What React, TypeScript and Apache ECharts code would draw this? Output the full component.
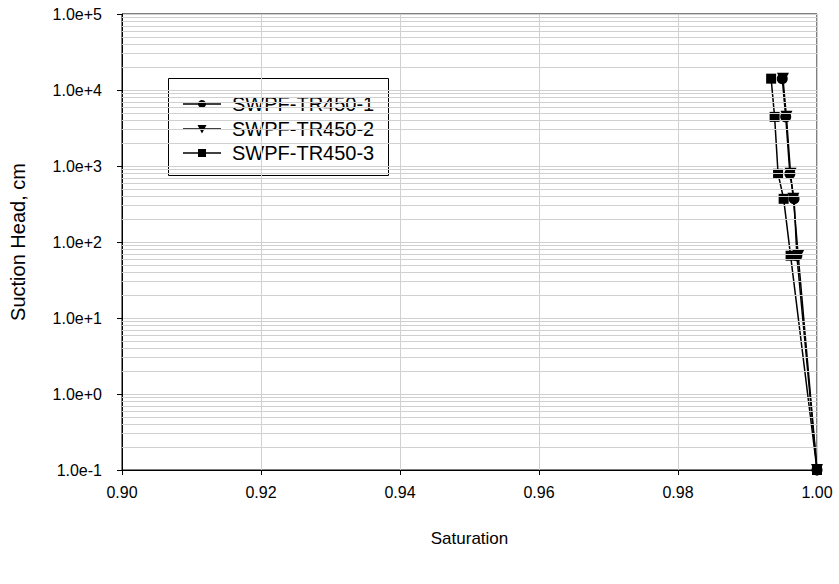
import { useEffect, useRef } from 'react';
import * as echarts from 'echarts';

// Saturation for each sample at the applied suction heads (cm)
const suctionHead = [14100, 4430, 790, 370, 66, 0.1];
const saturation1 = [0.995, 0.9955, 0.9961, 0.9967, 0.9971, 1.0];
const saturation2 = [0.9951, 0.9956, 0.9962, 0.9966, 0.9973, 1.0];
const saturation3 = [0.9934, 0.9939, 0.9944, 0.9952, 0.9962, 1.0];
const seriesNames = ['SWPF-TR450-1', 'SWPF-TR450-2', 'SWPF-TR450-3'];

// Decades of the log axis and the intermediate grid multipliers
const decades = [-1, 0, 1, 2, 3, 4];
const minorMultipliers = [2, 3, 4, 5, 6, 7, 8, 9];

const FONT = 'Liberation Sans';

function pairs(xs: number[], ys: number[]) {
  return xs.map((x, i) => [x, ys[i]]);
}

// Boxed key in the upper-left of the plot: line + marker + label per sample
function legendGraphic() {
  const left = 168;
  const top = 78;
  const rowY = [104, 129, 153];
  const lineX0 = 183;
  const lineX1 = 221;
  const mx = (lineX0 + lineX1) / 2;
  const children: any[] = [
    {
      type: 'rect',
      shape: { x: left + 0.5, y: top + 0.5, width: 220, height: 97 },
      style: { fill: '#fff', stroke: '#000', lineWidth: 1 },
    },
  ];
  rowY.forEach((y, i) => {
    children.push({
      type: 'line',
      shape: { x1: lineX0, y1: y, x2: lineX1, y2: y },
      style: { stroke: '#000', lineWidth: 1.5 },
    });
    if (i === 0) {
      children.push({ type: 'circle', shape: { cx: mx, cy: y, r: 4 }, style: { fill: '#000' } });
    } else if (i === 1) {
      children.push({
        type: 'polygon',
        shape: { points: [[mx - 4.5, y - 4], [mx + 4.5, y - 4], [mx, y + 4.5]] },
        style: { fill: '#000' },
      });
    } else {
      children.push({ type: 'rect', shape: { x: mx - 4, y: y - 4, width: 8, height: 8 }, style: { fill: '#000' } });
    }
    children.push({
      type: 'text',
      x: 232,
      y: y - 10,
      style: { text: seriesNames[i], fill: '#000', fontSize: 20, fontFamily: FONT, verticalAlign: 'top', align: 'left' },
    });
  });
  return { type: 'group', z: 100, silent: true, children };
}

export default function App() {
  const ref = useRef<HTMLDivElement>(null);

  useEffect(() => {
    document.body.style.margin = '0';
    if (!ref.current) return;
    const chart = echarts.init(ref.current, undefined, { renderer: 'svg' });

    const minorLines: { yAxis: number }[] = [];
    decades.forEach((d) => {
      minorMultipliers.forEach((m) => {
        minorLines.push({ yAxis: m * Math.pow(10, d) });
      });
    });

    const lineSeries = (name: string, data: number[][], symbol: string, size: number, rotate = 0) => ({
      name,
      type: 'line',
      data,
      symbol,
      symbolSize: size,
      symbolRotate: rotate,
      z: 3,
      lineStyle: { color: '#000', width: 1.5 },
      itemStyle: { color: '#000' },
    });

    chart.setOption({
      animation: false,
      textStyle: { fontFamily: FONT },
      grid: { left: 122, right: 22, top: 14, bottom: 114, show: true, borderColor: '#000', borderWidth: 1, backgroundColor: '#fff' },
      graphic: [legendGraphic()],
      xAxis: {
        type: 'value', min: 0.9, max: 1.0, interval: 0.02,
        name: 'Saturation', nameLocation: 'middle', nameGap: 60,
        nameTextStyle: { fontSize: 17, color: '#000', fontFamily: FONT },
        axisLine: { lineStyle: { color: '#000', width: 1 } },
        axisTick: { show: true, inside: false, length: 5, lineStyle: { color: '#000' } },
        axisLabel: { fontSize: 16, color: '#000', margin: 14, fontFamily: FONT, formatter: (v: number) => v.toFixed(2) },
        splitLine: { show: true, lineStyle: { color: '#d0d0d0', width: 1 } },
      },
      yAxis: {
        type: 'log', logBase: 10, min: 0.1, max: 100000,
        name: 'Suction Head, cm', nameLocation: 'middle', nameRotate: 90, nameGap: 94,
        nameTextStyle: { fontSize: 20, color: '#000', fontFamily: FONT },
        axisLine: { show: true, lineStyle: { color: '#000', width: 1 } },
        axisTick: { show: true, inside: false, length: 5, lineStyle: { color: '#000' } },
        axisLabel: {
          fontSize: 16, color: '#000', margin: 20, fontFamily: FONT,
          formatter: (v: number) => {
            const e = Math.round(Math.log10(v));
            return '1.0e' + (e >= 0 ? '+' : '') + e;
          },
        },
        splitLine: { show: true, lineStyle: { color: '#d0d0d0', width: 1 } },
      },
      series: [
        {
          name: 'minor-grid', type: 'line', data: [], z: 1, silent: true,
          markLine: {
            silent: true, symbol: ['none', 'none'], label: { show: false },
            lineStyle: { color: '#d0d0d0', width: 1, type: 'solid' },
            emphasis: { disabled: true }, data: minorLines,
          },
        },
        lineSeries(seriesNames[1], pairs(saturation2, suctionHead), 'triangle', 12, 180),
        lineSeries(seriesNames[0], pairs(saturation1, suctionHead), 'circle', 11),
        lineSeries(seriesNames[2], pairs(saturation3, suctionHead), 'rect', 10),
      ],
    });

    return () => chart.dispose();
  }, []);

  return <div ref={ref} style={{ width: 839, height: 584 }} />;
}
